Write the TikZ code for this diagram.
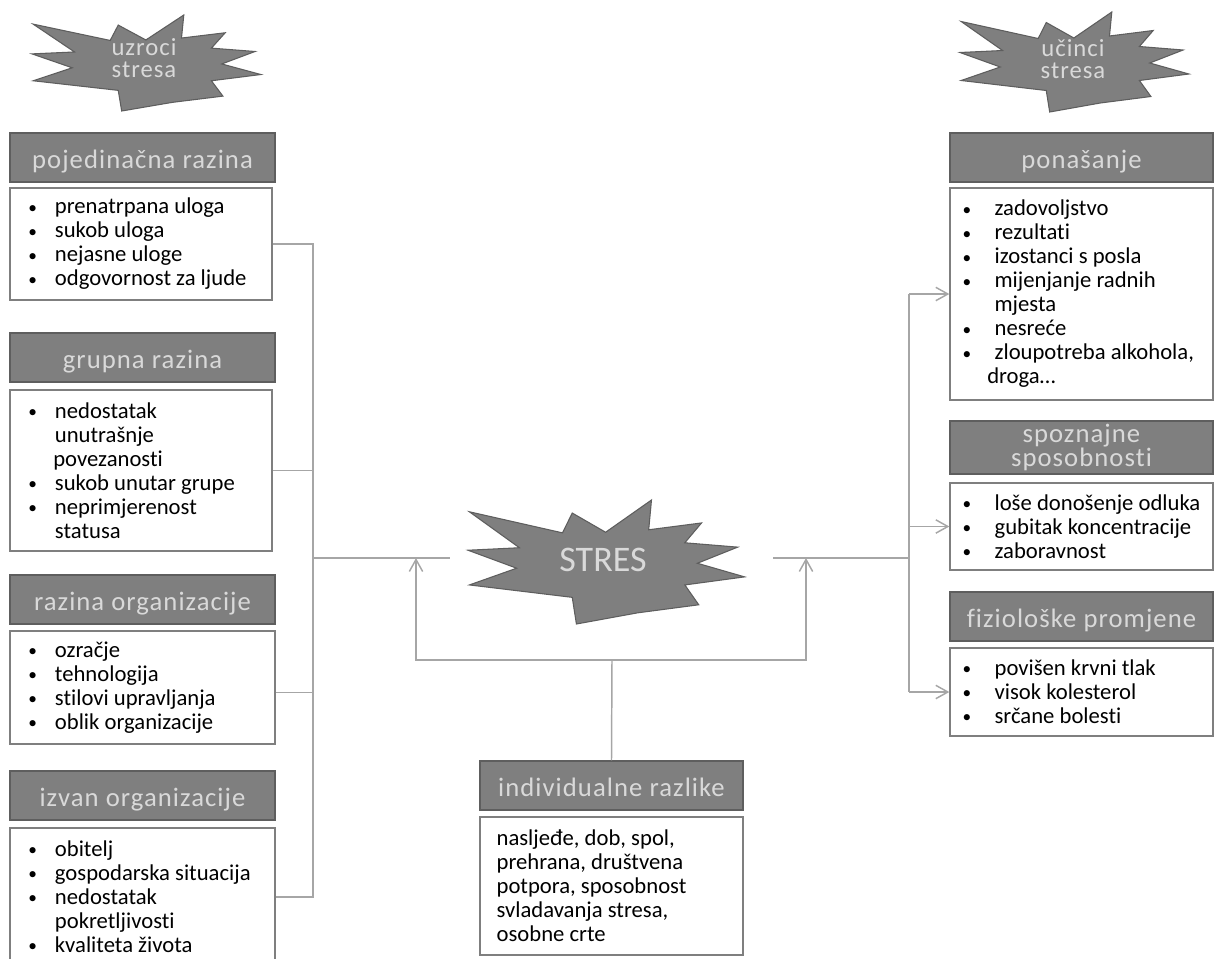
\documentclass[tikz,border=0pt]{standalone}
\usepackage{fontspec}
\setmainfont{Carlito}[Ligatures=NoCommon]
\newfontfamily\headfont{Carlito}[LetterSpace=4,Ligatures=NoCommon]
\usetikzlibrary{arrows.meta,fit,positioning}

\definecolor{boxgray}{HTML}{7F7F7F}
\definecolor{edgegray}{HTML}{5E5E5E}
\definecolor{paletext}{HTML}{D9D9D9}
\definecolor{linkgray}{HTML}{A6A6A6}
\definecolor{framegray}{HTML}{7F7F7F}

\newcommand{\dotmark}{{\fontsize{13}{13}\selectfont\raisebox{0.6pt}{\textbullet}}}
\newcommand{\itm}{\makebox[20pt][l]{\dotmark}}
\newcommand{\itmr}{\makebox[24pt][l]{\dotmark}}

\tikzset{
  headbox/.style={draw=edgegray, fill=boxgray, line width=1pt, inner sep=0pt},
  headtext/.style={inner sep=0pt, text=paletext, align=center,
    font=\headfont\fontsize{20}{16.5}\selectfont},
  headline/.style={headtext, anchor=base, yshift=-8pt},
  bodybox/.style={draw=framegray, line width=1pt, inner sep=0pt},
  items/.style={inner sep=0pt, anchor=west, align=left, font=\fontsize{17}{18}\selectfont},
  bursttext/.style={text=paletext, align=center, font=\headfont\fontsize{18.5}{17}\selectfont},
  link/.style={draw=linkgray, line width=1.1pt},
  arr/.style={link, -{Straight Barb[length=9pt,width=10pt]}},
  burst/.pic={\filldraw[fill=boxgray, draw=edgegray, line width=0.8pt]
    (-0.99,-0.81) -- (-0.32,-0.47) -- (-0.25,-0.79) -- (-0.01,-0.48) -- (0.32,-1)
    -- (0.30,-0.52) -- (0.68,-0.63) -- (0.56,-0.31) -- (0.94,-0.24) -- (0.65,0.02)
    -- (0.99,0.24) -- (0.56,0.37) -- (0.66,0.69) -- (0.22,0.82) -- (-0.22,1)
    -- (-0.25,0.57) -- (-0.99,0.37) -- (-0.65,0.10) -- (-1,-0.19) -- (-0.63,-0.23) -- cycle;}
}

\begin{document}
\begin{tikzpicture}[x=0.75pt,y=-0.75pt]
\useasboundingbox (0,0) rectangle (1215,958);
\clip (0,0) rectangle (1215,958);

% uzroci (left column)
\pic[xscale=115,yscale=48] at (147,63) {burst};
\node[bursttext] (uzroci) at (144,58) {uzroci\\stresa};

\node[headbox, fit={(10,133) (275,182)}] (pojhead) {};
\node[headline] at (pojhead.center) {pojedinačna razina};
\node[bodybox, fit={(10,188) (272,300)}] (pojbox) {};
\node[items] (pojlist) at ([xshift=14pt]pojbox.west)
  {\itm prenatrpana uloga\\\itm sukob uloga\\\itm nejasne uloge\\\itm odgovornost za ljude};

\node[headbox, fit={(10,333) (275,382)}] (grphead) {};
\node[headline] at (grphead.center) {grupna razina};
\node[bodybox, fit={(10,390) (272,551)}] (grpbox) {};
\node[items] (grplist) at ([xshift=14pt]grpbox.west)
  {\itm nedostatak\\\hspace*{20pt}unutrašnje\\\hspace*{18.8pt}povezanosti\\
   \itm sukob unutar grupe\\\itm neprimjerenost\\\hspace*{20pt}statusa};

\node[headbox, fit={(10,575) (275,624)}] (orghead) {};
\node[headline] at (orghead.center) {razina organizacije};
\node[bodybox, fit={(10,631) (275,744)}] (orgbox) {};
\node[items] (orglist) at ([xshift=14pt]orgbox.west)
  {\itm ozračje\\\itm tehnologija\\\itm stilovi upravljanja\\\itm oblik organizacije};

\node[headbox, fit={(10,771) (275,820)}] (izvhead) {};
\node[headline] at (izvhead.center) {izvan organizacije};
\node[bodybox, fit={(10,828) (275,966)}] (izvbox) {};
\node[items] (izvlist) at ([xshift=14pt]izvbox.west)
  {\itm obitelj\\\itm gospodarska situacija\\\itm nedostatak\\\hspace*{20pt}pokretljivosti\\
   \itm kvaliteta života};

% stres (middle)
\pic[xscale=139,yscale=62] at (607,562) {burst};
\node[text=paletext, font=\fontsize{27}{30}\selectfont] (stres) at (603,560) {STRES};

\node[headbox, fit={(480,761) (743,810)}] (indhead) {};
\node[headline] at (indhead.center) {individualne razlike};
\node[bodybox, fit={(480,817) (743,955)}] (indbox) {};
\node[items] (indlist) at ([xshift=12.75pt]indbox.west)
  {nasljeđe, dob, spol,\\prehrana, društvena\\potpora, sposobnost\\svladavanja stresa,\\osobne crte};

% ucinci (right column)
\pic[xscale=115,yscale=50] at (1075,62) {burst};
\node[bursttext] (ucinci) at (1073,59) {učinci\\stresa};

\node[headbox, fit={(950,133) (1213,182)}] (ponhead) {};
\node[headline] at (ponhead.center) {ponašanje};
\node[bodybox, fit={(950,188) (1213,400)}] (ponbox) {};
\node[items] (ponlist) at ([xshift=9.75pt]ponbox.west)
  {\itmr zadovoljstvo\\\itmr rezultati\\\itmr izostanci s posla\\\itmr mijenjanje radnih\\
   \hspace*{24pt}mjesta\\\itmr nesreće\\\itmr zloupotreba alkohola,\\\hspace*{18.5pt}droga…};

\node[headbox, fit={(950,421) (1213,474)}] (spohead) {};
\node[headtext] at (spohead.center) {spoznajne\\sposobnosti};
\node[bodybox, fit={(950,483) (1213,570)}] (spobox) {};
\node[items] (spolist) at ([xshift=9.75pt]spobox.west)
  {\itmr loše donošenje odluka\\\itmr gubitak koncentracije\\\itmr zaboravnost};

\node[headbox, fit={(950,592) (1213,641)}] (fizhead) {};
\node[headline] at (fizhead.center) {fiziološke promjene};
\node[bodybox, fit={(950,648) (1213,736)}] (fizbox) {};
\node[items] (fizlist) at ([xshift=9.75pt]fizbox.west)
  {\itmr povišen krvni tlak\\\itmr visok kolesterol\\\itmr srčane bolesti};

% connectors
\coordinate (lbus) at (313,558);
\coordinate (lin) at (450,558);
\coordinate (rout) at (773,558);
\coordinate (rbus) at (909,558);
\coordinate (tee) at (612,660);
\coordinate (lup) at (416,558);
\coordinate (rup) at (806,558);

\draw[link] (pojbox.east) -| (izvbox.east -| lbus) -- (izvbox.east);
\draw[link] (grpbox.east) -- (grpbox.east -| lbus);
\draw[link] ([yshift=-3.75pt]orgbox.east) -- ([yshift=-3.75pt]orgbox.east -| lbus);
\draw[link] (lbus) -- (lin);

\draw[link] (rout) -- (rbus);
\draw[link] (ponbox.west -| rbus) -- (fizbox.west -| rbus);
\draw[arr] (ponbox.west -| rbus) -- (ponbox.west);
\draw[arr] (spobox.west -| rbus) -- (spobox.west);
\draw[arr] (fizbox.west -| rbus) -- (fizbox.west);

\draw[link] (indhead.north) -- (tee);
\draw[arr] (tee) -| (lup);
\draw[arr] (tee) -| (rup);
\end{tikzpicture}
\end{document}
